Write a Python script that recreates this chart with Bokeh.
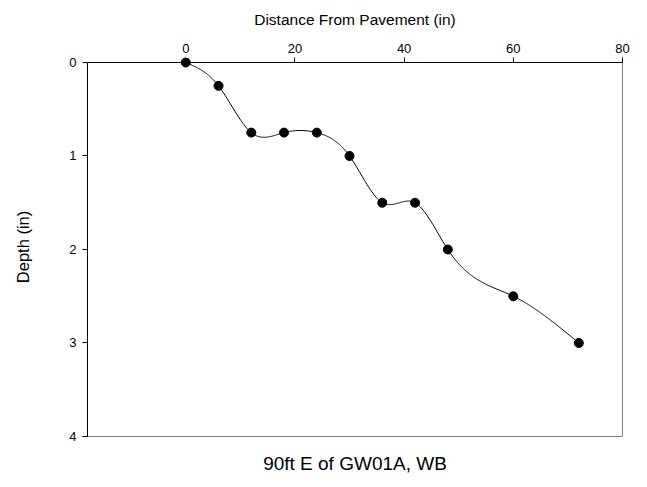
import numpy as np
from bokeh.plotting import figure
from bokeh.models import Range1d, FixedTicker, Title, Span
from bokeh.embed import file_html
from bokeh.resources import INLINE

# Survey readings: distance from pavement edge vs. depth
distance_in = [0, 6, 12, 18, 24, 30, 36, 42, 48, 60, 72]
depth_in = [0, 0.25, 0.75, 0.75, 0.75, 1.0, 1.5, 1.5, 2.0, 2.5, 3.0]
x_ticks = [0, 20, 40, 60, 80]
y_ticks = [0, 1, 2, 3, 4]
x_lo, x_hi = -18, 80
y_lo, y_hi = 0, 4


def natural_spline(xs, ys, n=400):
    """Natural cubic spline through the measured points, for a smooth trace."""
    xs = np.asarray(xs, float)
    ys = np.asarray(ys, float)
    k = len(xs)
    h = np.diff(xs)
    A = np.zeros((k, k))
    b = np.zeros(k)
    A[0, 0] = A[-1, -1] = 1.0
    for i in range(1, k - 1):
        A[i, i - 1] = h[i - 1]
        A[i, i] = 2 * (h[i - 1] + h[i])
        A[i, i + 1] = h[i]
        b[i] = 6 * ((ys[i + 1] - ys[i]) / h[i] - (ys[i] - ys[i - 1]) / h[i - 1])
    m = np.linalg.solve(A, b)
    xf = np.linspace(xs[0], xs[-1], n)
    idx = np.clip(np.searchsorted(xs, xf) - 1, 0, k - 2)
    x0, x1 = xs[idx], xs[idx + 1]
    hh = x1 - x0
    t0, t1 = x1 - xf, xf - x0
    yf = (m[idx] * t0 ** 3 + m[idx + 1] * t1 ** 3) / (6 * hh) \
        + (ys[idx] / hh - m[idx] * hh / 6) * t0 \
        + (ys[idx + 1] / hh - m[idx + 1] * hh / 6) * t1
    return xf, yf


# The frame reaches a few pixels above depth 0 so the marker sitting on the
# top edge is drawn whole; the visible box is drawn with spans instead.
pad_px, plot_px = 5, 375
top_pad = (y_hi - y_lo) * pad_px / plot_px

p = figure(width=647, height=487, output_backend="svg", toolbar_location=None,
           x_range=Range1d(x_lo, x_hi), y_range=Range1d(y_hi, y_lo - top_pad),
           x_axis_location="above",
           min_border_left=87, min_border_right=25,
           min_border_top=57, min_border_bottom=50)

p.grid.visible = False
p.outline_line_color = None
p.background_fill_color = "white"
p.border_fill_color = "white"

font = "Liberation Sans"
for ax in (p.xaxis[0], p.yaxis[0]):
    ax.axis_line_color = "black"
    ax.major_tick_line_color = "black"
    ax.minor_tick_line_color = None
    ax.major_label_text_font = font
    ax.major_label_text_font_size = "13px"
    ax.major_label_text_color = "black"
    ax.axis_label_text_font = font
    ax.axis_label_text_font_style = "normal"
    ax.axis_label_text_color = "black"

p.xaxis.ticker = FixedTicker(ticks=x_ticks)
p.yaxis.ticker = FixedTicker(ticks=y_ticks)
p.xaxis.axis_label = "Distance From Pavement (in)"
p.yaxis.axis_label = "Depth (in)"
p.xaxis.axis_label_text_font_size = "15.5px"
p.yaxis.axis_label_text_font_size = "16.5px"

# top axis: ticks rise from the depth-0 line up to the frame edge
p.xaxis.axis_line_color = None
p.xaxis.major_tick_in = pad_px
p.xaxis.major_tick_out = 0
p.xaxis.major_label_standoff = 5
p.xaxis.axis_label_standoff = 13

p.yaxis.bounds = (y_lo, y_hi)
p.yaxis.major_tick_in = 0
p.yaxis.major_tick_out = 5
p.yaxis.major_label_standoff = 6
p.yaxis.axis_label_standoff = 34

for loc, dim in ((y_lo, "width"), (y_hi, "width"), (x_hi, "height")):
    p.add_layout(Span(location=loc, dimension=dim, line_color="black", line_width=1))

xs, ys = natural_spline(distance_in, depth_in)
p.line(xs, ys, line_color="black", line_width=1)
p.scatter(distance_in, depth_in, size=9, fill_color="black", line_color="black")

p.add_layout(Title(text="90ft E of GW01A, WB", align="center",
                   text_font=font, text_font_size="19px",
                   text_font_style="normal", text_color="black",
                   standoff=28), "below")

open("out.html", "w").write(file_html(p, INLINE))
